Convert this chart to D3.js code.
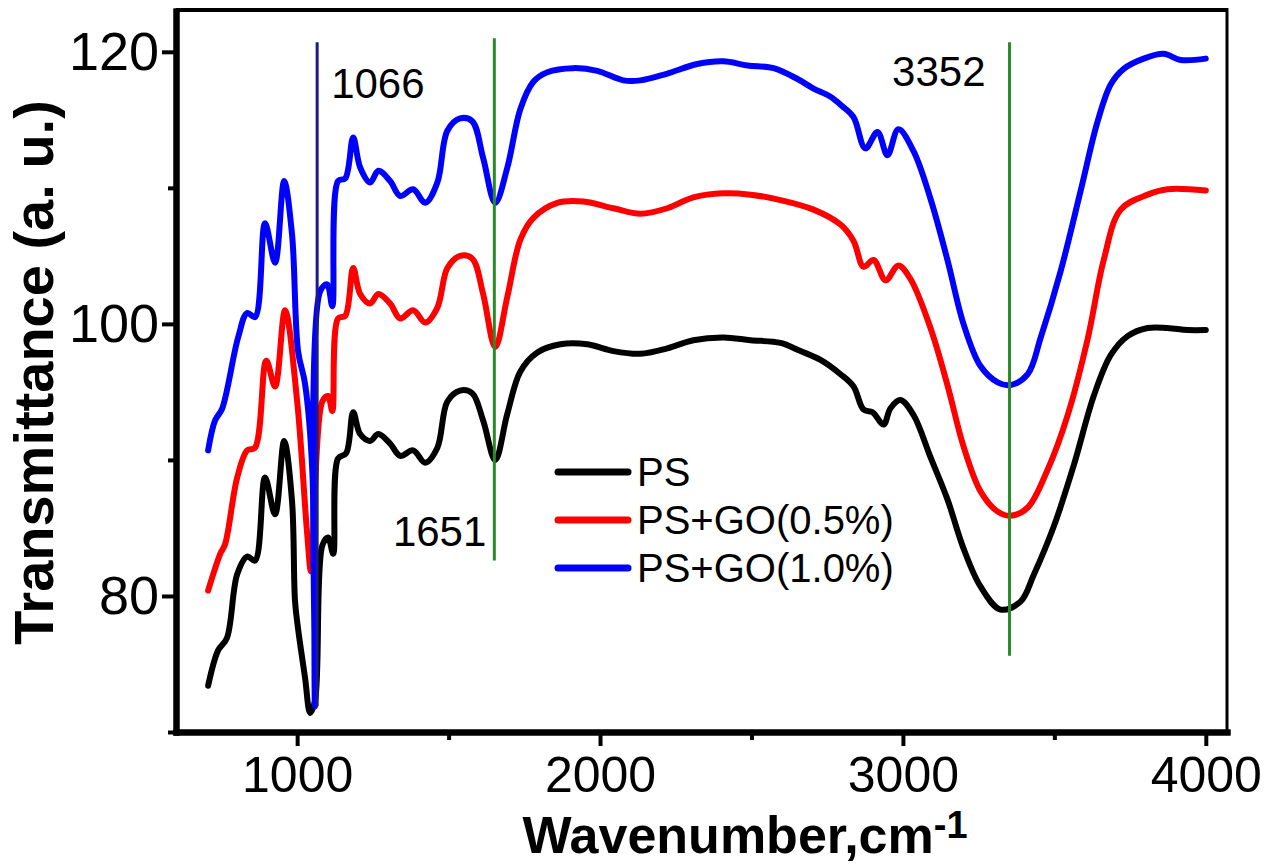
<!DOCTYPE html>
<html>
<head>
<meta charset="utf-8">
<script src="https://cdn.jsdelivr.net/npm/d3@7"></script>
<style>
  html, body { margin: 0; padding: 0; background: #fff; }
  svg text { font-family: "Liberation Sans", Arial, sans-serif; }
</style>
</head>
<body>
<svg id="chart" width="1273" height="867"></svg>
<script>
// FTIR spectra: [wavenumber (cm^-1), transmittance (a.u.)]
const psData = [
  [706,73.4],[739,76.0],[768,76.9],[802,81.6],[835,82.9],[861,82.6],[894,88.7],[927,86.0],
  [957,91.4],[983,87.0],[993,79.6],[1003,77.6],[1026,74.0],[1043,71.4],[1059,72.3],[1083,83.7],
  [1102,84.3],[1119,83.1],[1135,90.1],[1162,90.5],[1185,93.5],[1208,91.9],[1241,91.4],[1268,91.9],
  [1307,91.2],[1340,90.3],[1383,90.7],[1423,89.8],[1463,90.9],[1496,94.3],[1538,95.1],[1578,94.9],
  [1614,92.9],[1654,90.0],[1694,93.4],[1737,96.5],[1793,97.9],[1869,98.5],[1958,98.5],[2044,98.0],
  [2133,97.8],[2222,98.2],[2308,98.8],[2407,99.0],[2497,98.8],[2596,98.6],[2662,98.0],[2728,97.35],
  [2794,96.3],[2837,95.4],[2870,93.7],[2900,93.5],[2936,92.6],[2959,93.8],[2992,94.4],[3035,93.3],
  [3091,90.2],[3147,87.1],[3200,83.5],[3256,80.7],[3322,79.0],[3389,79.6],[3431,81.5],[3498,85.1],
  [3564,89.6],[3630,94.7],[3686,97.7],[3742,99.1],[3808,99.7],[3874,99.7],[3940,99.55],[4000,99.55]
];
const go05Data = [
  [706,80.4],[746,83.1],[762,83.8],[802,88.7],[835,90.7],[861,90.9],[898,97.3],[927,95.4],
  [960,101.0],[1000,94.3],[1033,84.6],[1046,81.8],[1083,94.3],[1102,94.7],[1116,93.6],[1135,100.4],
  [1159,100.6],[1185,104.1],[1208,102.2],[1241,101.5],[1268,102.2],[1307,101.5],[1340,100.4],[1383,101.0],
  [1423,100.1],[1463,101.2],[1496,104.1],[1538,105.0],[1578,104.8],[1614,102.2],[1654,98.3],[1694,102.0],
  [1737,106.2],[1780,107.8],[1859,108.9],[1945,109.0],[2044,108.5],[2133,108.1],[2222,108.5],[2308,109.3],
  [2407,109.6],[2497,109.5],[2596,109.1],[2705,108.4],[2794,107.3],[2837,106.1],[2870,104.2],[2903,104.7],
  [2943,103.2],[2985,104.3],[3025,103.3],[3091,99.7],[3147,95.5],[3200,91.0],[3256,87.7],[3313,86.2],
  [3355,85.9],[3412,86.5],[3478,89.3],[3544,93.3],[3610,98.9],[3663,104.7],[3719,108.4],[3808,109.5],
  [3874,109.9],[4000,109.8]
];
const go10Data = [
  [706,90.7],[729,92.9],[752,93.75],[805,99.0],[835,100.8],[861,100.5],[894,107.4],[927,104.5],
  [957,110.5],[983,106.6],[1003,98.0],[1026,95.6],[1050,89.2],[1059,71.9],[1076,102.4],[1099,102.9],
  [1116,101.3],[1135,110.5],[1159,110.7],[1185,113.7],[1208,111.5],[1241,110.4],[1268,111.25],[1307,110.5],
  [1340,109.4],[1383,109.9],[1423,108.9],[1463,110.4],[1496,114.2],[1538,115.1],[1578,114.9],[1614,112.2],
  [1654,108.9],[1694,111.5],[1737,115.8],[1780,117.8],[1826,118.5],[1912,118.8],[1991,118.6],[2077,117.9],
  [2133,117.9],[2222,118.4],[2321,119.1],[2407,119.3],[2487,119.0],[2573,118.8],[2652,118.0],[2705,117.3],
  [2761,116.7],[2800,116.0],[2837,115.2],[2876,112.9],[2916,114.1],[2949,112.4],[2985,114.3],[3035,112.7],
  [3091,109.2],[3147,104.7],[3200,100.0],[3256,96.9],[3313,95.7],[3355,95.5],[3412,96.3],[3455,99.0],
  [3521,103.9],[3587,109.8],[3643,114.9],[3686,117.6],[3729,118.75],[3795,119.5],[3861,119.85],[3917,119.4],
  [4000,119.5]
];

const seriesNames = ["PS", "PS+GO(0.5%)", "PS+GO(1.0%)"];
const seriesColors = ["#000000", "#ff0000", "#0000ff"];

const xTicks = [1000, 2000, 3000, 4000];
const xMinorTicks = [1500, 2500, 3500];
const yTicks = [80, 100, 120];
const yMinorTicks = [70, 90, 110];

// marker lines: [wavenumber, label, top value, bottom value]
const markers = [
  [1066, "1066", 120.7, 71.9],
  [1651, "1651", 121.0, 82.6],
  [3352, "3352", 120.7, 75.6]
];
const markerColors = ["#1a1a8c", "#2a8a2a", "#2a8a2a"];

const svg = d3.select("#chart");
const plotLeft = 176, plotRight = 1227, plotTop = 11, plotBottom = 732;

const x = d3.scaleLinear().domain([600, 4070]).range([plotLeft, plotRight]);
const y = d3.scaleLinear().domain([70, 123]).range([plotBottom, plotTop]);

// frame (top and right edges)
svg.append("line").attr("x1", plotLeft).attr("x2", plotRight).attr("y1", plotTop - 1).attr("y2", plotTop - 1)
  .attr("stroke", "#000").attr("stroke-width", 4);
svg.append("line").attr("x1", plotRight).attr("x2", plotRight).attr("y1", plotTop - 3).attr("y2", plotBottom)
  .attr("stroke", "#000").attr("stroke-width", 3);

// axes
const xAxis = svg.append("g").attr("transform", `translate(0,${plotBottom})`)
  .call(d3.axisBottom(x).tickValues(xTicks).tickSize(14).tickSizeOuter(0).tickPadding(10).tickFormat(d3.format("d")));
const xAxisMinor = svg.append("g").attr("transform", `translate(0,${plotBottom})`)
  .call(d3.axisBottom(x).tickValues(xMinorTicks).tickSize(8).tickSizeOuter(0).tickFormat(""));
const yAxis = svg.append("g").attr("transform", `translate(${plotLeft},0)`)
  .call(d3.axisLeft(y).tickValues(yTicks).tickSize(14).tickSizeOuter(0).tickPadding(3).tickFormat(d3.format("d")));
const yAxisMinor = svg.append("g").attr("transform", `translate(${plotLeft},0)`)
  .call(d3.axisLeft(y).tickValues(yMinorTicks).tickSize(8).tickSizeOuter(0).tickFormat(""));

[xAxis, xAxisMinor, yAxis, yAxisMinor].forEach(g => {
  g.select(".domain").attr("stroke", "#000").attr("stroke-width", 6).attr("stroke-linecap", "square");
  g.selectAll(".tick line").attr("stroke", "#000").attr("stroke-width", 4);
});
xAxis.selectAll(".tick text").attr("font-size", 50).attr("fill", "#000")
  .attr("font-family", "Liberation Sans, Arial, sans-serif");
yAxis.selectAll(".tick text").attr("font-size", 54).attr("fill", "#000")
  .attr("font-family", "Liberation Sans, Arial, sans-serif");

// axis titles
svg.append("text")
  .attr("transform", `translate(53,${(plotTop + plotBottom) / 2 + 1}) rotate(-90)`)
  .attr("text-anchor", "middle").attr("font-size", 56).attr("font-weight", "bold")
  .text("Transmittance (a. u.)");
const xTitle = svg.append("text").attr("x", 745).attr("y", 853)
  .attr("text-anchor", "middle").attr("font-size", 52).attr("font-weight", "bold");
xTitle.append("tspan").text("Wavenumber,cm");
xTitle.append("tspan").attr("dy", -15).attr("font-size", 38).text("-1");

// spectra
const line = d3.line().x(d => x(d[0])).y(d => y(d[1])).curve(d3.curveCatmullRom.alpha(0.5));
const allSeries = [psData, go05Data, go10Data];
svg.append("g").selectAll("path").data(allSeries).join("path")
  .attr("d", line).attr("fill", "none")
  .attr("stroke", (d, i) => seriesColors[i]).attr("stroke-width", 6)
  .attr("stroke-linejoin", "round").attr("stroke-linecap", "round");

// marker lines and labels
const mg = svg.append("g");
markers.forEach((m, i) => {
  mg.append("line").attr("x1", x(m[0])).attr("x2", x(m[0]))
    .attr("y1", y(m[2])).attr("y2", y(m[3]))
    .attr("stroke", markerColors[i]).attr("stroke-width", 3);
});
mg.append("text").attr("x", x(markers[0][0]) + 14).attr("y", 98).attr("font-size", 42).text(markers[0][1]);
mg.append("text").attr("x", x(markers[1][0]) - 8).attr("y", 546).attr("text-anchor", "end").attr("font-size", 42).text(markers[1][1]);
mg.append("text").attr("x", x(markers[2][0]) - 24).attr("y", 86).attr("text-anchor", "end").attr("font-size", 42).text(markers[2][1]);

// legend
const legend = svg.append("g").attr("transform", "translate(558,472)");
seriesNames.forEach((name, i) => {
  const g = legend.append("g").attr("transform", `translate(0,${i * 48})`);
  g.append("line").attr("x1", 0).attr("x2", 70).attr("y1", 0).attr("y2", 0)
    .attr("stroke", seriesColors[i]).attr("stroke-width", 7).attr("stroke-linecap", "round");
  g.append("text").attr("x", 79).attr("y", 14).attr("font-size", 40).attr("fill", "#000").text(name);
});
</script>
</body>
</html>
